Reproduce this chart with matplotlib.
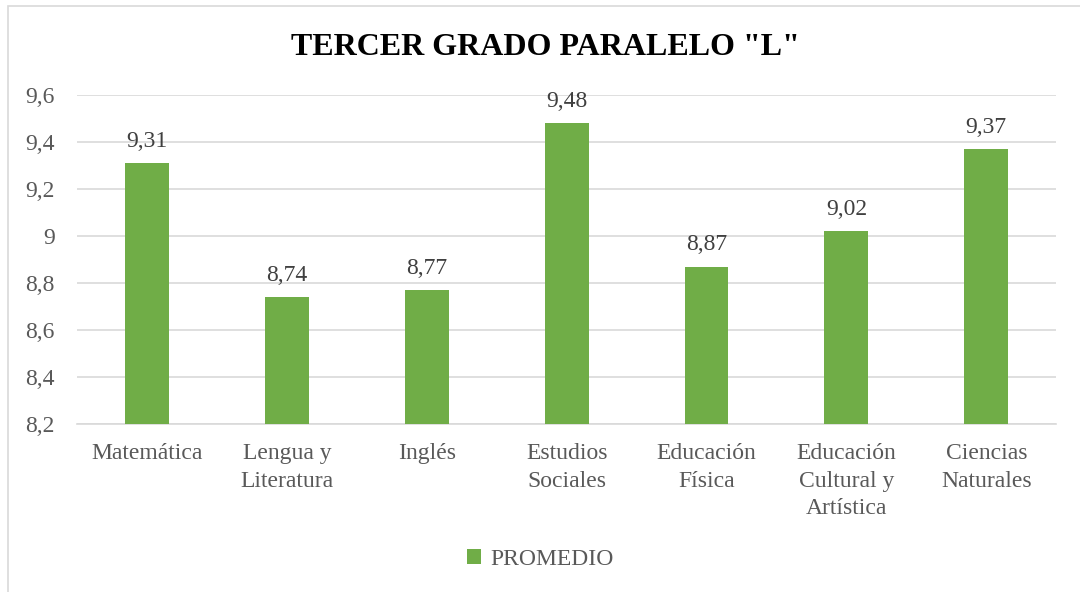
import matplotlib.pyplot as plt
from matplotlib.patches import Rectangle

# datos del grafico
materias = ["Matemática", "Lengua y\nLiteratura", "Inglés", "Estudios\nSociales",
            "Educación\nFísica", "Educación\nCultural y\nArtística", "Ciencias\nNaturales"]
promedio = [9.31, 8.74, 8.77, 9.48, 8.87, 9.02, 9.37]
yticks = [8.2, 8.4, 8.6, 8.8, 9.0, 9.2, 9.4, 9.6]
ytick_labels = ["8,2", "8,4", "8,6", "8,8", "9", "9,2", "9,4", "9,6"]

plt.rcParams['font.family'] = ['Liberation Serif', 'DejaVu Serif']
gris = '#595959'
verde = '#70AD47'

fig = plt.figure(figsize=(10.8, 5.92), dpi=100)
ax = fig.add_axes([0.0713, 0.2838, 0.9067, 0.5557])

x = range(len(materias))
bars = ax.bar(x, promedio, width=0.314, color=verde, zorder=3, label='PROMEDIO')

for b, v in zip(bars, promedio):
    ax.annotate(f"{v:.2f}".replace('.', ','), (b.get_x() + b.get_width() / 2, v),
                xytext=(0, 8), textcoords='offset points',
                ha='center', va='bottom', fontsize=17, color='#404040')

ax.set_xlim(-0.5, len(materias) - 0.5)
ax.set_ylim(8.2, 9.6)
ax.set_yticks(yticks)
ax.set_yticklabels(ytick_labels, fontsize=17, color=gris)
ax.set_xticks(list(x))
ax.set_xticklabels(materias, fontsize=17, color=gris, linespacing=1.4, va='top')
ax.tick_params(axis='x', length=0, pad=14)
ax.tick_params(axis='y', length=0, pad=16)
ax.grid(axis='y', color='#D9D9D9', linewidth=1.2, zorder=0)
for s in ['top', 'right', 'left']:
    ax.spines[s].set_visible(False)
ax.spines['bottom'].set_color('#D9D9D9')
ax.spines['bottom'].set_linewidth(1.2)

fig.text(0.505, 0.92, 'TERCER GRADO PARALELO "L"', ha='center', va='center',
         fontsize=23, fontweight='bold', color='black')

fig.legend(loc='center', bbox_to_anchor=(0.5, 0.055), frameon=False, fontsize=17,
           handlelength=0.6, handleheight=0.6, handletextpad=0.4,
           labelcolor=gris)

# borde del area del grafico
fig.patches.append(Rectangle((0.0075, -0.01), 1.0, 1.0, transform=fig.transFigure,
                             fill=False, edgecolor='#D9D9D9', linewidth=1.2))

fig.savefig('out.png', dpi=100)
